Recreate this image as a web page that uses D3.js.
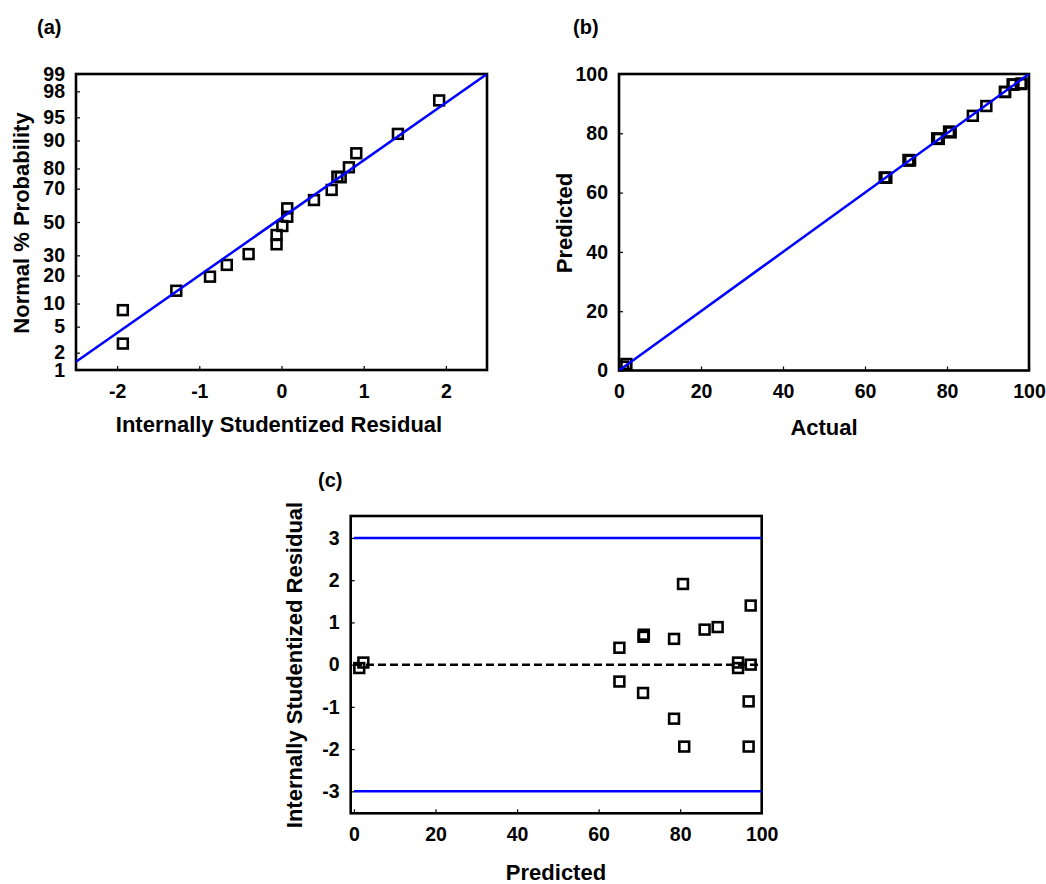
<!DOCTYPE html>
<html>
<head>
<meta charset="utf-8">
<script src="https://cdn.jsdelivr.net/npm/d3@7"></script>
<style>
  body { margin: 0; background: #fff; }
  svg text { font-family: "Liberation Sans", Arial, sans-serif; font-weight: bold; fill: #000; }
</style>
</head>
<body>
<svg id="chart" width="1046" height="884"></svg>
<script>
// ---- (a) normal probability plot of residuals ----
const normalResiduals = [-1.93, -1.93, -1.28, -0.87, -0.665, -0.40, -0.06, -0.06, 0.01, 0.07, 0.07,
                         0.395, 0.61, 0.68, 0.72, 0.82, 0.91, 1.416, 1.918];
const normalProbabilities = [2.8, 8.3, 14, 19.5, 25, 30.7, 36.3, 41.9, 47.5, 53.3, 58.5,
                             63.5, 69.3, 76.2, 75.9, 80.5, 86, 91.7, 97.2];
const probabilityTicks = [1, 2, 5, 10, 20, 30, 50, 70, 80, 90, 95, 98, 99];
const normalResidualTicks = [-2, -1, 0, 1, 2];
const normalFitResiduals = [-2.5, 2.5];
const normalFitProbabilities = [1.4, 99];

// ---- (b) predicted vs actual ----
const actualValues =    [1.0, 1.8, 64.8, 65.2, 70.6, 71.0, 70.8, 77.6, 78.0, 80.9, 80.5,
                         86.3, 89.6, 94.1, 94.2, 96.0, 96.2, 98.2, 98.0];
const predictedValues = [1.3, 2.2, 65.1, 65.0, 71.0, 70.9, 70.8, 78.3, 78.1, 80.3, 80.6,
                         85.9, 89.2, 93.9, 94.0, 96.5, 96.4, 96.8, 96.6];
const parityTicks = [0, 20, 40, 60, 80, 100];
const parityLine = [0, 100];

// ---- (c) residuals vs predicted ----
const runPredicted = [1.3, 2.3, 65.1, 65.1, 71.1, 71.0, 70.9, 78.5, 78.5, 80.7, 81.0,
                      86.0, 89.2, 94.2, 94.2, 97.3, 97.3, 96.8, 96.8];
const runResiduals = [-0.08, 0.05, 0.40, -0.40, 0.71, 0.66, -0.67, 0.61, -1.28, 1.91, -1.94,
                      0.83, 0.89, 0.05, -0.08, 1.40, 0.0, -0.87, -1.94];
const residualLimits = [-3, 3];
const residualTicks = [-3, -2, -1, 0, 1, 2, 3];
const predictedTicks = [0, 20, 40, 60, 80, 100];

const BLUE = "#0000ff";
const svg = d3.select("#chart");
const plainNumber = d => String(d);   // hyphen-minus, as in the printed figure

// inverse standard normal CDF (Acklam's rational approximation)
function probit(p) {
  const a = [-3.969683028665376e+01, 2.209460984245205e+02, -2.759285104469687e+02,
             1.383577518672690e+02, -3.066479806614716e+01, 2.506628277459239e+00];
  const b = [-5.447609879822406e+01, 1.615858368580409e+02, -1.556989798598866e+02,
             6.680131188771972e+01, -1.328068155288572e+01];
  const c = [-7.784894002430293e-03, -3.223964580411365e-01, -2.400758277161838e+00,
             -2.549732539343734e+00, 4.374664141464968e+00, 2.938163982698783e+00];
  const d = [7.784695709041462e-03, 3.224671290700398e-01, 2.445134137142996e+00,
             3.754408661907416e+00];
  const pl = 0.02425, ph = 1 - pl;
  let q, r;
  if (p < pl) {
    q = Math.sqrt(-2 * Math.log(p));
    return (((((c[0]*q+c[1])*q+c[2])*q+c[3])*q+c[4])*q+c[5]) / ((((d[0]*q+d[1])*q+d[2])*q+d[3])*q+1);
  } else if (p <= ph) {
    q = p - 0.5; r = q * q;
    return (((((a[0]*r+a[1])*r+a[2])*r+a[3])*r+a[4])*r+a[5])*q / (((((b[0]*r+b[1])*r+b[2])*r+b[3])*r+b[4])*r+1);
  } else {
    q = Math.sqrt(-2 * Math.log(1 - p));
    return -(((((c[0]*q+c[1])*q+c[2])*q+c[3])*q+c[4])*q+c[5]) / ((((d[0]*q+d[1])*q+d[2])*q+d[3])*q+1);
  }
}
const pz = pct => probit(pct / 100);

// shared panel scaffolding: frame, inward ticks, labels
function panel(id, box, x, y, xTicks, yTicks) {
  const g = svg.append("g").attr("id", id);
  const w = box.r - box.l, h = box.b - box.t;
  g.append("clipPath").attr("id", id + "-clip")
    .append("rect").attr("x", box.l).attr("y", box.t).attr("width", w).attr("height", h);

  const xa = g.append("g").attr("transform", `translate(0,${box.b})`)
    .call(d3.axisBottom(x).tickValues(xTicks).tickSize(-4).tickPadding(14).tickFormat(plainNumber));
  const ya = g.append("g").attr("transform", `translate(${box.l},0)`)
    .call(d3.axisLeft(y).tickValues(yTicks).tickSize(-4).tickPadding(11).tickFormat(plainNumber));
  [xa, ya].forEach(a => {
    a.select(".domain").remove();
    a.selectAll("line").attr("stroke", "#000").attr("stroke-width", 1.2);
    a.selectAll("text").attr("font-size", 19.5).attr("fill", "#000")
      .style("font-family", '"Liberation Sans", Arial, sans-serif').style("font-weight", "bold");
  });
  g.append("rect").attr("x", box.l).attr("y", box.t).attr("width", w).attr("height", h)
    .attr("fill", "none").attr("stroke", "#000").attr("stroke-width", 2.6);
  const plot = g.append("g").attr("clip-path", `url(#${id}-clip)`);
  return { g, plot };
}

function squares(sel, xs, ys, x, y) {
  sel.selectAll("rect.pt").data(xs.map((v, i) => [v, ys[i]])).join("rect")
    .attr("class", "pt")
    .attr("x", d => x(d[0]) - 4.9).attr("y", d => y(d[1]) - 4.9)
    .attr("width", 9.8).attr("height", 9.8)
    .attr("fill", "none").attr("stroke", "#000").attr("stroke-width", 2.6);
}

function titles(g, label, lx, ly, xTitle, xtx, xty, yTitle, ytx, yty) {
  g.append("text").attr("x", lx).attr("y", ly).attr("font-size", 20).text(label);
  g.append("text").attr("x", xtx).attr("y", xty).attr("text-anchor", "middle")
    .attr("font-size", 22).text(xTitle);
  g.append("text").attr("transform", `translate(${ytx},${yty}) rotate(-90)`)
    .attr("text-anchor", "middle").attr("font-size", 22).text(yTitle);
}

// ---- panel (a) ----
{
  const box = { l: 76, r: 487, t: 74, b: 370 };
  const x = d3.scaleLinear().domain([-2.5, 2.5]).range([box.l, box.r]);
  const zy = d3.scaleLinear().domain([pz(1), pz(99)]).range([box.b, box.t]);
  const y = p => zy(pz(p));
  // probability axis: a scale-like wrapper so d3.axisLeft can place the ticks
  const probScale = Object.assign(p => y(p), {
    range: () => [box.b, box.t], domain: () => [1, 99], copy: () => probScale
  });
  const { g, plot } = panel("pa", box, x, probScale, normalResidualTicks, probabilityTicks);
  squares(plot, normalResiduals, normalProbabilities, x, y);
  plot.append("path")
    .datum(normalFitResiduals.map((v, i) => [v, normalFitProbabilities[i]]))
    .attr("d", d3.line().x(d => x(d[0])).y(d => y(d[1])))
    .attr("stroke", BLUE).attr("stroke-width", 2.5).attr("fill", "none");
  titles(g, "(a)", 37, 34, "Internally Studentized Residual", 279, 432, "Normal % Probability", 29, 223);
}

// ---- panel (b) ----
{
  const box = { l: 619, r: 1029, t: 74, b: 370.5 };
  const x = d3.scaleLinear().domain([0, 100]).range([box.l, box.r]);
  const y = d3.scaleLinear().domain([0, 100]).range([box.b, box.t]);
  const { g, plot } = panel("pb", box, x, y, parityTicks, parityTicks);
  squares(plot, actualValues, predictedValues, x, y);
  plot.append("path")
    .datum(parityLine.map(v => [v, v]))
    .attr("d", d3.line().x(d => x(d[0])).y(d => y(d[1])))
    .attr("stroke", BLUE).attr("stroke-width", 2.5).attr("fill", "none");
  titles(g, "(b)", 573, 34, "Actual", 824, 435, "Predicted", 572, 223);
}

// ---- panel (c) ----
{
  const box = { l: 350.7, r: 761.7, t: 516, b: 813.3 };
  const x = d3.scaleLinear().domain([-0.8, 100]).range([box.l, box.r]);
  const y = d3.scaleLinear().domain([-3.52, 3.52]).range([box.b, box.t]);
  const { g, plot } = panel("pc", box, x, y, predictedTicks, residualTicks);
  squares(plot, runPredicted, runResiduals, x, y);
  residualLimits.forEach(v => {
    plot.append("line").attr("x1", x(0)).attr("x2", x(100)).attr("y1", y(v)).attr("y2", y(v))
      .attr("stroke", BLUE).attr("stroke-width", 2.5);
  });
  plot.append("line").attr("x1", x(0)).attr("x2", x(100)).attr("y1", y(0)).attr("y2", y(0))
    .attr("stroke", "#000").attr("stroke-width", 2.5).attr("stroke-dasharray", "8,4");
  titles(g, "(c)", 318, 487, "Predicted", 556, 880, "Internally Studentized Residual", 302, 665);
}
</script>
</body>
</html>
